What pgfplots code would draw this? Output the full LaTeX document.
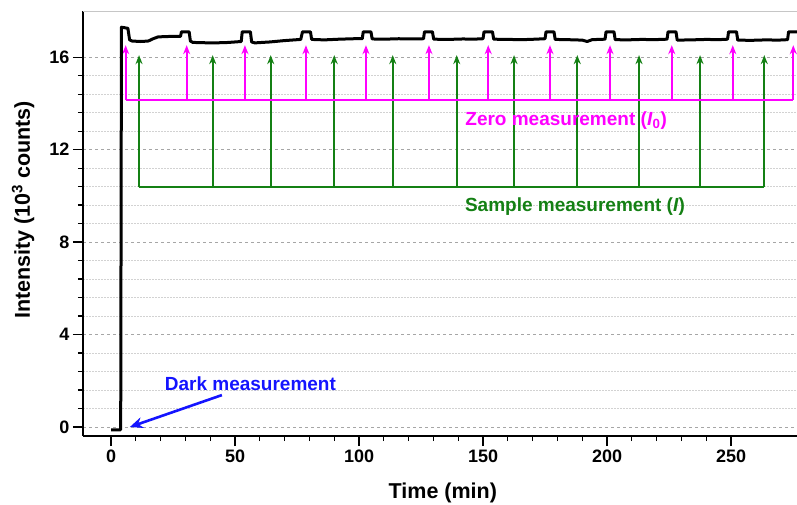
\documentclass[border=0pt]{standalone}
\usepackage{pgfplots}
\pgfplotsset{compat=1.18}
\usepackage{fontspec}
\setmainfont{Liberation Sans}
\usetikzlibrary{arrows.meta}
\definecolor{mag}{RGB}{255,0,255}
\definecolor{grn}{RGB}{20,128,20}
\definecolor{blu}{RGB}{20,20,255}
\begin{document}
\begin{tikzpicture}
\useasboundingbox (0,0) rectangle (797pt,504pt);
\begin{axis}[
  at={(83pt,68pt)}, anchor=south west,
  scale only axis, width=714pt, height=425pt,
  xmin=-11.3, xmax=276.6, ymin=-0.39, ymax=18,
  axis x line*=bottom, axis y line*=left,
  axis line style={line width=1.6pt, black},
  xtick={0,50,...,250}, minor x tick num=4,
  ytick={0,4,...,16}, minor y tick num=4,
  tick align=outside,
  major tick length=10pt, minor tick length=5pt,
  every tick/.style={black, line width=1.3pt},
  ymajorgrids, yminorgrids,
  major grid style={gray!70, line width=0.7pt, dash pattern=on 3pt off 3pt},
  minor grid style={gray!35, line width=0.6pt, dash pattern=on 1.5pt off 1.5pt},
  /pgf/number format/assume math mode=true,
  tick label style={font=\fontsize{18}{18}\selectfont\bfseries},
  xlabel={Time (min)}, ylabel={Intensity (10\textsuperscript{3} counts)},
  label style={font=\fontsize{21.5}{22}\selectfont\bfseries},
  xlabel style={at={(axis description cs:0.504,-0.134)}, anchor=center},
  ylabel style={at={(axis description cs:-0.084,0.532)}, anchor=center},
  clip=true,
]
\draw[gray!45, line width=0.8pt] (rel axis cs:0,1) -- (rel axis cs:1,1);

% green sample measurement
\addplot[grn, line width=1.8pt] coordinates {(11.3,10.37) (263.4,10.37)};
\addplot[grn, line width=1.8pt, quiver={u=0,v=5.72,
    every arrow/.append style={line width=1.8pt, -{Stealth[length=9pt,width=7pt]}}}]
  table[x=x,y=y] {
x y
11.3 10.37
41.0 10.37
64.4 10.37
90.0 10.37
113.6 10.37
139.4 10.37
162.5 10.37
188.0 10.37
212.9 10.37
237.5 10.37
263.4 10.37
};

% magenta zero measurement
\addplot[mag, line width=1.8pt] coordinates {(5.9,14.14) (275.1,14.14)};
\addplot[mag, line width=1.8pt, quiver={u=0,v=2.38,
    every arrow/.append style={line width=1.8pt, -{Stealth[length=9pt,width=7pt]}}}]
  table[x=x,y=y] {
x y
5.9 14.14
30.5 14.14
54.0 14.14
78.6 14.14
102.8 14.14
128.2 14.14
152.1 14.14
177.0 14.14
201.2 14.14
226.1 14.14
250.7 14.14
275.1 14.14
};

% intensity trace
\addplot[black, line width=3pt, line join=round] coordinates {
(0,-0.12) (3.9,-0.12) (4.2,17.3) (6.8,17.25) (7.5,16.75) (8.5,16.7) (12,16.68) (15,16.7) (17,16.8) (19,16.88) (24,16.9) (28,16.9)
(28.4,17.1) (31.5,17.1) (32,16.7) (33,16.64) (40,16.62) (46,16.63) (50,16.66) (52.5,16.68)
(52.9,17.1) (56.2,17.1) (56.7,16.66) (58,16.62) (64,16.66) (70,16.72) (76.5,16.77)
(77.2,17.1) (80.4,17.1) (80.9,16.77) (86,16.75) (92,16.78) (98,16.8) (101.3,16.8)
(101.7,17.1) (104.8,17.1) (105.3,16.79) (110,16.78) (116,16.8) (121,16.79) (126,16.8)
(126.4,17.1) (129.6,17.1) (130.1,16.78) (136,16.77) (142,16.79) (146,16.78) (150,16.8)
(150.4,17.1) (153.8,17.1) (154.3,16.78) (160,16.77) (166,16.76) (171,16.78) (175,16.8)
(175.4,17.1) (178.6,17.1) (179.1,16.77) (184,16.76) (190,16.74) (192,16.68) (194,16.76) (199.2,16.78)
(199.6,17.1) (202.8,17.1) (203.3,16.76) (208,16.75) (214,16.77) (219,16.76) (224.2,16.78)
(224.6,17.1) (227.8,17.1) (228.3,16.74) (234,16.75) (240,16.77) (245,16.76) (248.6,16.78)
(249,17.1) (252.2,17.1) (252.7,16.74) (258,16.73) (264,16.75) (269,16.74) (272.8,16.76)
(273.2,17.1) (276.6,17.1)
};

% dark measurement arrow
\addplot[blu, line width=2.6pt, -{Stealth[length=13pt,width=11pt]}] coordinates {(44.7,1.38) (7.6,0.0)};

\node[blu, anchor=base, font=\fontsize{19}{19}\selectfont\bfseries] at (axis cs:56.2,1.6) {Dark measurement};
\node[mag, anchor=base, font=\fontsize{19}{19}\selectfont\bfseries] at (axis cs:183.5,13.06) {Zero measurement (\textit{I}\textsubscript{0})};
\node[grn, anchor=base, font=\fontsize{19}{19}\selectfont\bfseries] at (axis cs:187.1,9.34) {Sample measurement (\textit{I})};
\end{axis}
\end{tikzpicture}
\end{document}
